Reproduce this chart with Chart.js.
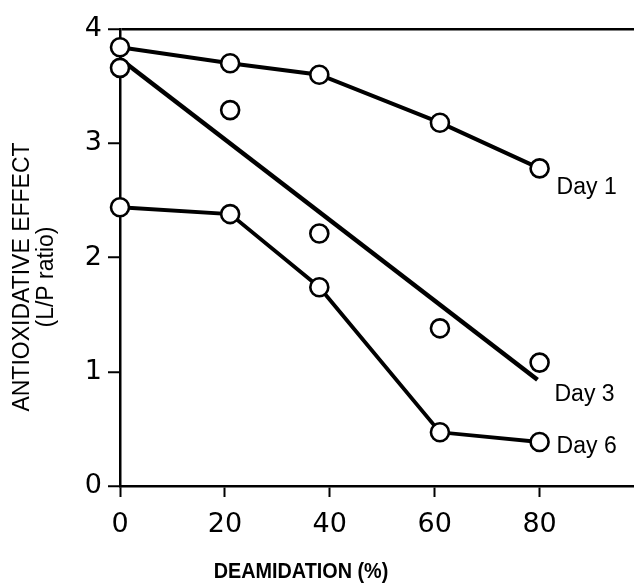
<!DOCTYPE html>
<html>
<head>
<meta charset="utf-8">
<script src="https://cdn.jsdelivr.net/npm/chart.js@4.4.1/dist/chart.umd.min.js"></script>
<style>
  html, body { margin: 0; padding: 0; background: #fff; }
  #chart { display: block; }
</style>
</head>
<body>
<canvas id="chart" width="634" height="586"></canvas>
<script>
// deamidation (%) at which samples were measured
const deamidation = [0, 21, 38, 61, 80];

// L/P ratio
const day1 = [3.84, 3.70, 3.60, 3.18, 2.78];
const day3 = [3.66, 3.29, 2.21, 1.38, 1.08];
const day6 = [2.44, 2.38, 1.74, 0.47, 0.385];

// fitted line drawn for day 3
const day3FitX = [0, 79.6];
const day3FitY = [3.74, 0.93];

const yTicks = [0, 1, 2, 3, 4];
const xTicks = [0, 20, 40, 60, 80];

const seriesNames = ['Day 1', 'Day 3', 'Day 6'];
const yTitle = ['ANTIOXIDATIVE EFFECT', '(L/P ratio)'];
const xTitle = 'DEAMIDATION (%)';

function toPoints(xs, ys) {
  return xs.map((x, i) => ({ x: x, y: ys[i] }));
}

const markerStyle = {
  pointRadius: 9,
  pointHoverRadius: 9,
  pointBorderWidth: 2.6,
  pointBackgroundColor: '#fff',
  pointBorderColor: '#000',
  borderColor: '#000',
  backgroundColor: '#fff',
  clip: false
};

// labels next to the last point, plus the axis titles
const labelPlugin = {
  id: 'labels',
  afterDraw(chart) {
    const ctx = chart.ctx;
    const area = chart.chartArea;
    ctx.save();
    ctx.fillStyle = '#000';

    // series names at end of each curve
    const ends = [
      { ds: 0, dx: 17, dy: 19 },
      { ds: 2, dx: 17, dy: 15 },
      { ds: 3, dx: 17, dy: 5 }
    ];
    ctx.font = '23px "Liberation Sans", Arial, sans-serif';
    ctx.textAlign = 'left';
    ctx.textBaseline = 'middle';
    ends.forEach((e, i) => {
      const meta = chart.getDatasetMeta(e.ds);
      const last = meta.data[meta.data.length - 1];
      ctx.fillText(seriesNames[i], last.x + e.dx, last.y + e.dy);
    });

    // y title, rotated, two lines
    ctx.font = '23px "Liberation Sans", Arial, sans-serif';
    ctx.textAlign = 'center';
    ctx.translate(area.left - 97, 277);
    ctx.rotate(-Math.PI / 2);
    ctx.fillText(yTitle[0], 0, 0);
    ctx.fillText(yTitle[1], 0, 24);
    ctx.restore();

    // x title
    ctx.save();
    ctx.fillStyle = '#000';
    ctx.font = 'bold 22px "Liberation Sans", Arial, sans-serif';
    ctx.textAlign = 'center';
    ctx.textBaseline = 'middle';
    ctx.translate(area.left + 181, area.bottom + 86);
    ctx.scale(0.9, 1);
    ctx.fillText(xTitle, 0, 0);
    ctx.restore();
  }
};

new Chart(document.getElementById('chart'), {
  type: 'scatter',
  data: {
    datasets: [
      Object.assign({
        label: seriesNames[0],
        data: toPoints(deamidation, day1),
        showLine: true,
        borderWidth: 4,
        order: 1
      }, markerStyle),
      Object.assign({
        label: seriesNames[1] + ' points',
        data: toPoints(deamidation, day3),
        showLine: false,
        order: 1
      }, markerStyle),
      {
        label: seriesNames[1],
        data: toPoints(day3FitX, day3FitY),
        showLine: true,
        borderColor: '#000',
        borderWidth: 4.5,
        pointRadius: 0,
        pointHoverRadius: 0,
        clip: false,
        order: 5
      },
      Object.assign({
        label: seriesNames[2],
        data: toPoints(deamidation, day6),
        showLine: true,
        borderWidth: 3.8,
        order: 2
      }, markerStyle)
    ]
  },
  options: {
    responsive: false,
    animation: false,
    layout: { autoPadding: false, padding: { top: 29, right: 0, bottom: 0, left: 0 } },
    plugins: {
      legend: { display: false },
      tooltip: { enabled: false },
      title: { display: false }
    },
    scales: {
      x: {
        type: 'linear',
        min: 0,
        max: 98,
        afterBuildTicks: s => { s.ticks = xTicks.map(v => ({ value: v })); },
        afterFit: s => { s.height = 100; s.paddingRight = 0; s.paddingLeft = 0; },
        border: { display: true, color: '#000', width: 2.5 },
        grid: {
          drawOnChartArea: false,
          drawTicks: true,
          tickLength: 11,
          tickWidth: 2,
          tickColor: '#000'
        },
        ticks: {
          color: '#000',
          padding: 12,
          maxRotation: 0,
          font: { family: '"DejaVu Sans", "Liberation Sans", sans-serif', size: 27 }
        }
      },
      y: {
        type: 'linear',
        min: 0,
        max: 4,
        afterBuildTicks: s => { s.ticks = yTicks.map(v => ({ value: v })); },
        afterFit: s => { s.width = 120; },
        border: { display: true, color: '#000', width: 2.5 },
        grid: {
          drawOnChartArea: true,
          color: c => (c.tick && c.tick.value === 4 ? '#000' : 'rgba(0,0,0,0)'),
          lineWidth: 2.5,
          drawTicks: true,
          tickLength: 12,
          tickWidth: 2,
          tickColor: '#000'
        },
        ticks: {
          color: '#000',
          padding: 6,
          font: { family: '"DejaVu Sans", "Liberation Sans", sans-serif', size: 27 }
        }
      }
    }
  },
  plugins: [labelPlugin]
});
</script>
</body>
</html>
